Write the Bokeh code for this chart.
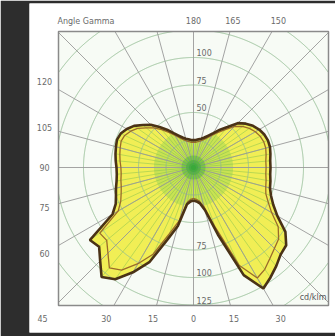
import numpy as np
from bokeh.plotting import figure
from bokeh.models import Range1d
from bokeh.embed import file_html
from bokeh.resources import INLINE
from bokeh.core.properties import value

# ---------------- data ----------------
gamma = list(range(0, 181, 5))
c0_outer = [30, 31, 33, 40, 65, 108, 127, 122, 117, 112,
            110, 102, 88, 80, 75, 72, 71, 70, 70, 70,
            71, 72, 72, 71, 69, 66, 62, 57, 48, 42,
            36, 32, 29, 27, 26, 25, 25]
c180_outer = [30, 31, 34, 55, 70, 95, 110, 124, 130, 120,
              112, 115, 85, 78, 75, 73, 71, 70, 70, 71,
              72, 73, 74, 73, 70, 66, 60, 55, 48, 42,
              36, 32, 29, 27, 26, 25, 25]
c0_inner = [28, 29, 31, 37, 58, 98, 116, 113, 108, 104,
            101, 94, 82, 75, 70, 68, 67, 66, 66, 66,
            67, 68, 68, 67, 65, 62, 58, 53, 45, 39,
            34, 30, 27, 25, 24, 23, 23]
c180_inner = [28, 29, 32, 50, 64, 87, 101, 114, 119, 110,
              103, 104, 79, 73, 70, 68, 67, 66, 66, 67,
              68, 69, 70, 69, 66, 62, 56, 51, 45, 39,
              34, 30, 27, 25, 24, 23, 23]
ring_values = [25, 50, 75, 100, 125, 150, 175]
ring_labels_upper = [50, 75, 100]
ring_labels_lower = [75, 100, 125]
left_label_angles = [120, 105, 90, 75, 60]
bottom_label_angles_left = [45, 30, 15]
bottom_label_angles_right = [0, 15, 30]
top_label_angles = [180, 165, 150]
spoke_step = 15
title_text = "Angle Gamma"
unit_text = "cd/klm"

# ---------------- layout ----------------
S = 1.1            # px per unit
CX, CY = 193, 167  # px of pole
W, H = 335, 336
LEFT_DARK = 29
TOP_DARK = 3
BOTTOM_DARK = 4
x0 = (LEFT_DARK - CX) / S
x1 = (W - CX) / S
y1 = (CY - TOP_DARK) / S
y0 = -((H - BOTTOM_DARK) - CY) / S
BX0 = (58 - CX) / S
BX1 = (328 - CX) / S
BY1 = (CY - 31) / S
BY0 = -(305 - CY) / S

p = figure(width=W, height=H, output_backend="svg", toolbar_location=None,
           x_range=Range1d(x0, x1), y_range=Range1d(y0, y1),
           x_axis_location=None, y_axis_location=None,
           min_border_left=LEFT_DARK, min_border_right=0, min_border_top=TOP_DARK,
           min_border_bottom=BOTTOM_DARK,
           background_fill_color="white", border_fill_color="#2d2d2d",
           outline_line_color=None)
p.grid.visible = False

# plot box background
p.quad(left=BX0, right=BX1, bottom=BY0, top=BY1, fill_color="#f7fbf5", line_color=None)


def outline(right, left):
    g = np.radians(gamma)
    r = np.array(right, float)
    l = np.array(left, float)
    xr, yr = r * np.sin(g), -r * np.cos(g)
    xl, yl = -l * np.sin(g), -l * np.cos(g)
    xs = np.concatenate([xr, xl[::-1][1:]])
    ys = np.concatenate([yr, yl[::-1][1:]])
    return xs, ys


ox, oy = outline(c0_outer, c180_outer)
ix, iy = outline(c0_inner, c180_inner)

# fill
p.patch(ox, oy, fill_color="#f1ee55", line_color=None)
# green tint near the pole
gx, gy = outline(np.minimum(c0_outer, 36), np.minimum(c180_outer, 36))
p.patch(gx, gy, fill_color="#8fd050", fill_alpha=0.4, line_color=None)

# fine radial lines inside the lobes
g = np.radians(gamma)
fx, fy = [], []
for k in range(len(gamma)):
    for side, vals in ((1, c0_outer), (-1, c180_outer)):
        fx.append([0, side * vals[k] * np.sin(g[k])])
        fy.append([0, -vals[k] * np.cos(g[k])])
p.multi_line(fx, fy, line_color="#7fbf4f", line_alpha=0.6, line_width=0.8)

# rings (clipped to box)
th = np.linspace(0, 2 * np.pi, 1441)
for r in ring_values:
    cx = r * np.cos(th)
    cy = r * np.sin(th)
    m = (cx < BX0) | (cx > BX1) | (cy < BY0) | (cy > BY1)
    cx[m] = np.nan
    cy[m] = np.nan
    p.line(cx, cy, line_color="#93bd93", line_width=1, line_alpha=0.9)

# spokes
sx, sy = [], []
for a in range(0, 360, spoke_step):
    ra = np.radians(a)
    dx, dy = np.cos(ra), np.sin(ra)
    ts = []
    if dx > 1e-9: ts.append(BX1 / dx)
    if dx < -1e-9: ts.append(BX0 / dx)
    if dy > 1e-9: ts.append(BY1 / dy)
    if dy < -1e-9: ts.append(BY0 / dy)
    t = min(ts)
    sx.append([0, t * dx])
    sy.append([0, t * dy])
p.multi_line(sx, sy, line_color="#9a9a9a", line_width=1, line_alpha=0.9)

# centre glow
p.scatter(x=[0, 0, 0, 0], y=[0, 0, 0, 0], size=[24, 15, 9, 5],
          fill_color="#1fae1f", fill_alpha=0.3, line_color=None)

# curves
p.line(np.append(ix, ix[0]), np.append(iy, iy[0]), line_color="#9a6a2a", line_width=1.3)
p.line(np.append(ox, ox[0]), np.append(oy, oy[0]), line_color="#4a3216", line_width=2.6)

# box border
p.quad(left=BX0, right=BX1, bottom=BY0, top=BY1, fill_color=None,
       line_color="#8a8a8a", line_width=1.5)

# ---------------- labels ----------------
tf = value("DejaVu Sans")
tc = "#6a6a6a"
fs = value("8px")

LX = (44 - CX) / S
lx, ly, lt = [], [], []
for a in left_label_angles:
    ra = np.radians(a)
    t = LX / (-np.sin(ra))
    lx.append(LX)
    ly.append(-t * np.cos(ra))
    lt.append(str(a))
p.text(lx, ly, text=lt, text_font=tf, text_font_size=fs, text_color=tc,
       text_align="center", text_baseline="middle")

LY = (CY - 318) / S
bx, by, bt = [], [], []
for side, angs in ((-1, bottom_label_angles_left), (1, bottom_label_angles_right)):
    for a in angs:
        ra = np.radians(a)
        t = LY / (-np.cos(ra))
        bx.append(side * t * np.sin(ra))
        by.append(LY)
        bt.append(str(a))
p.text(bx, by, text=bt, text_font=tf, text_font_size=fs, text_color=tc,
       text_align="center", text_baseline="middle")

TY = (CY - 20) / S
tx, ty, tt = [], [], []
for a in top_label_angles:
    ra = np.radians(a)
    t = TY / (-np.cos(ra))
    tx.append(t * np.sin(ra))
    ty.append(TY)
    tt.append(str(a))
p.text(tx, ty, text=tt, text_font=tf, text_font_size=fs, text_color=tc,
       text_align="center", text_baseline="middle")

rx, ry, rt = [], [], []
for r in ring_labels_upper:
    rx.append(3 / S); ry.append(r + 1.5 / S); rt.append(str(r))
for r in ring_labels_lower:
    rx.append(3 / S); ry.append(-r + 1.5 / S); rt.append(str(r))
p.text(rx, ry, text=rt, text_font=tf, text_font_size=fs, text_color=tc,
       text_align="left", text_baseline="bottom")

p.text([(57 - CX) / S], [(CY - 21) / S], text=[title_text], text_font=tf,
       text_font_size=fs, text_color=tc, text_align="left", text_baseline="middle")
p.text([(326 - CX) / S], [-(301 - CY) / S], text=[unit_text], text_font=tf,
       text_font_size=fs, text_color="#555555", text_align="right", text_baseline="bottom")

open("out.html", "w").write(file_html(p, INLINE))
